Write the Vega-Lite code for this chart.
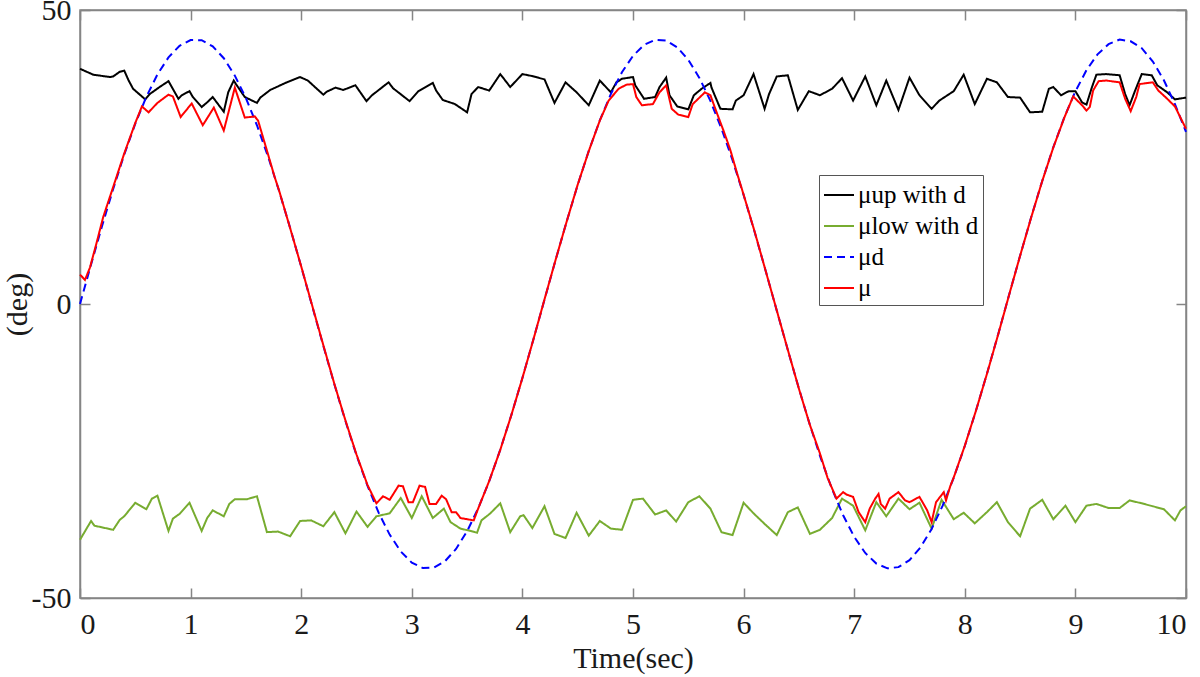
{
  "$schema": "https://vega.github.io/schema/vega-lite/v6.json",
  "width": 1106,
  "height": 588,
  "autosize": {"type": "none"},
  "padding": {"left": 80, "top": 10, "right": 14, "bottom": 79},
  "background": "white",
  "config": {
    "view": {"stroke": "#858585", "strokeWidth": 1.5},
    "axis": {
      "labelFont": "Liberation Serif",
      "titleFont": "Liberation Serif",
      "labelFontSize": 30,
      "titleFontSize": 30,
      "titleFontWeight": "normal",
      "labelColor": "#1a1a1a",
      "titleColor": "#1a1a1a",
      "domainColor": "#858585",
      "tickColor": "#858585",
      "domainWidth": 1.5,
      "tickWidth": 1.5,
      "tickSize": -10,
      "grid": false,
      "labelExpr": "replace(datum.label, '−', '-')"
    },
    "legend": {
      "labelFont": "Liberation Serif",
      "labelFontSize": 25,
      "labelColor": "#000000",
      "symbolType": "stroke",
      "symbolSize": 900,
      "symbolStrokeWidth": 2
    }
  },
  "datasets": {
    "lines": [
      {"s":"up","t":0,"v":40.0},{"s":"up","t":0.12,"v":39.0},{"s":"up","t":0.27,"v":38.6},{"s":"up","t":0.30,"v":38.7},{"s":"up","t":0.36,"v":39.5},{"s":"up","t":0.40,"v":39.7},{"s":"up","t":0.44,"v":38.0},{"s":"up","t":0.48,"v":36.6},{"s":"up","t":0.59,"v":34.8},{"s":"up","t":0.63,"v":35.7},{"s":"up","t":0.72,"v":36.9},{"s":"up","t":0.80,"v":37.9},{"s":"up","t":0.89,"v":34.9},{"s":"up","t":0.92,"v":35.5},{"s":"up","t":0.99,"v":36.2},{"s":"up","t":1.02,"v":35.2},{"s":"up","t":1.10,"v":33.5},{"s":"up","t":1.15,"v":34.3},{"s":"up","t":1.20,"v":35.2},{"s":"up","t":1.30,"v":32.7},{"s":"up","t":1.34,"v":36.0},{"s":"up","t":1.39,"v":38.0},{"s":"up","t":1.41,"v":37.4},{"s":"up","t":1.49,"v":35.2},{"s":"up","t":1.60,"v":34.2},{"s":"up","t":1.63,"v":35.1},{"s":"up","t":1.72,"v":36.4},{"s":"up","t":1.87,"v":37.7},{"s":"up","t":1.99,"v":38.6},{"s":"up","t":2.06,"v":38.0},{"s":"up","t":2.20,"v":35.6},{"s":"up","t":2.23,"v":36.1},{"s":"up","t":2.31,"v":36.8},{"s":"up","t":2.38,"v":36.4},{"s":"up","t":2.49,"v":37.2},{"s":"up","t":2.59,"v":34.5},{"s":"up","t":2.64,"v":35.5},{"s":"up","t":2.79,"v":37.7},{"s":"up","t":2.83,"v":36.7},{"s":"up","t":2.98,"v":34.5},{"s":"up","t":3.06,"v":36.2},{"s":"up","t":3.19,"v":37.6},{"s":"up","t":3.22,"v":36.3},{"s":"up","t":3.28,"v":34.7},{"s":"up","t":3.39,"v":34.0},{"s":"up","t":3.50,"v":32.6},{"s":"up","t":3.54,"v":35.7},{"s":"up","t":3.60,"v":36.9},{"s":"up","t":3.70,"v":36.3},{"s":"up","t":3.80,"v":39.1},{"s":"up","t":3.89,"v":36.9},{"s":"up","t":4.00,"v":39.1},{"s":"up","t":4.08,"v":38.8},{"s":"up","t":4.20,"v":38.2},{"s":"up","t":4.29,"v":34.2},{"s":"up","t":4.39,"v":37.7},{"s":"up","t":4.49,"v":36.0},{"s":"up","t":4.60,"v":33.8},{"s":"up","t":4.70,"v":38.0},{"s":"up","t":4.80,"v":36.0},{"s":"up","t":4.85,"v":37.7},{"s":"up","t":4.90,"v":38.3},{"s":"up","t":5.00,"v":38.6},{"s":"up","t":5.02,"v":37.2},{"s":"up","t":5.10,"v":34.9},{"s":"up","t":5.20,"v":35.2},{"s":"up","t":5.24,"v":36.9},{"s":"up","t":5.30,"v":38.5},{"s":"up","t":5.33,"v":35.5},{"s":"up","t":5.40,"v":33.6},{"s":"up","t":5.50,"v":33.1},{"s":"up","t":5.55,"v":35.5},{"s":"up","t":5.62,"v":36.6},{"s":"up","t":5.70,"v":37.6},{"s":"up","t":5.71,"v":36.8},{"s":"up","t":5.79,"v":33.2},{"s":"up","t":5.90,"v":33.1},{"s":"up","t":5.93,"v":34.6},{"s":"up","t":6.00,"v":35.5},{"s":"up","t":6.09,"v":39.1},{"s":"up","t":6.19,"v":33.2},{"s":"up","t":6.23,"v":35.7},{"s":"up","t":6.30,"v":38.7},{"s":"up","t":6.40,"v":38.9},{"s":"up","t":6.49,"v":33.0},{"s":"up","t":6.59,"v":36.2},{"s":"up","t":6.69,"v":35.5},{"s":"up","t":6.80,"v":36.6},{"s":"up","t":6.89,"v":38.4},{"s":"up","t":6.99,"v":34.6},{"s":"up","t":7.10,"v":38.7},{"s":"up","t":7.20,"v":33.8},{"s":"up","t":7.29,"v":38.0},{"s":"up","t":7.40,"v":33.0},{"s":"up","t":7.50,"v":38.5},{"s":"up","t":7.59,"v":35.5},{"s":"up","t":7.70,"v":33.2},{"s":"up","t":7.77,"v":34.6},{"s":"up","t":7.90,"v":36.2},{"s":"up","t":7.99,"v":39.0},{"s":"up","t":8.09,"v":34.0},{"s":"up","t":8.20,"v":38.3},{"s":"up","t":8.29,"v":37.7},{"s":"up","t":8.39,"v":35.2},{"s":"up","t":8.50,"v":35.1},{"s":"up","t":8.59,"v":32.6},{"s":"up","t":8.70,"v":32.7},{"s":"up","t":8.76,"v":36.6},{"s":"up","t":8.80,"v":36.9},{"s":"up","t":8.87,"v":35.5},{"s":"up","t":8.94,"v":36.2},{"s":"up","t":9.00,"v":36.2},{"s":"up","t":9.06,"v":34.3},{"s":"up","t":9.10,"v":33.9},{"s":"up","t":9.15,"v":36.9},{"s":"up","t":9.19,"v":39.0},{"s":"up","t":9.28,"v":39.1},{"s":"up","t":9.40,"v":38.9},{"s":"up","t":9.45,"v":35.7},{"s":"up","t":9.49,"v":33.8},{"s":"up","t":9.54,"v":36.3},{"s":"up","t":9.60,"v":39.1},{"s":"up","t":9.69,"v":38.9},{"s":"up","t":9.74,"v":37.2},{"s":"up","t":9.83,"v":36.0},{"s":"up","t":9.90,"v":34.8},{"s":"up","t":10.0,"v":35.1},

      {"s":"low","t":0,"v":-40.1},{"s":"low","t":0.10,"v":-36.9},{"s":"low","t":0.13,"v":-37.7},{"s":"low","t":0.30,"v":-38.4},{"s":"low","t":0.36,"v":-36.7},{"s":"low","t":0.40,"v":-36.1},{"s":"low","t":0.50,"v":-33.8},{"s":"low","t":0.60,"v":-34.9},{"s":"low","t":0.65,"v":-33.1},{"s":"low","t":0.70,"v":-32.6},{"s":"low","t":0.80,"v":-38.6},{"s":"low","t":0.84,"v":-36.5},{"s":"low","t":0.90,"v":-35.7},{"s":"low","t":0.99,"v":-33.8},{"s":"low","t":1.10,"v":-38.6},{"s":"low","t":1.15,"v":-36.4},{"s":"low","t":1.20,"v":-35.1},{"s":"low","t":1.30,"v":-36.1},{"s":"low","t":1.35,"v":-34.0},{"s":"low","t":1.40,"v":-33.2},{"s":"low","t":1.51,"v":-33.2},{"s":"low","t":1.60,"v":-32.7},{"s":"low","t":1.69,"v":-38.8},{"s":"low","t":1.79,"v":-38.7},{"s":"low","t":1.90,"v":-39.5},{"s":"low","t":1.99,"v":-36.9},{"s":"low","t":2.09,"v":-36.8},{"s":"low","t":2.20,"v":-37.8},{"s":"low","t":2.30,"v":-35.4},{"s":"low","t":2.40,"v":-39.0},{"s":"low","t":2.50,"v":-35.3},{"s":"low","t":2.60,"v":-37.9},{"s":"low","t":2.68,"v":-36.1},{"s":"low","t":2.80,"v":-35.6},{"s":"low","t":2.90,"v":-33.0},{"s":"low","t":3.00,"v":-36.4},{"s":"low","t":3.09,"v":-32.7},{"s":"low","t":3.19,"v":-36.4},{"s":"low","t":3.29,"v":-34.8},{"s":"low","t":3.35,"v":-37.1},{"s":"low","t":3.44,"v":-38.2},{"s":"low","t":3.51,"v":-38.5},{"s":"low","t":3.59,"v":-38.9},{"s":"low","t":3.63,"v":-36.8},{"s":"low","t":3.71,"v":-35.6},{"s":"low","t":3.80,"v":-33.9},{"s":"low","t":3.89,"v":-38.8},{"s":"low","t":3.98,"v":-36.1},{"s":"low","t":4.01,"v":-35.9},{"s":"low","t":4.09,"v":-38.1},{"s":"low","t":4.20,"v":-34.4},{"s":"low","t":4.29,"v":-39.1},{"s":"low","t":4.39,"v":-39.8},{"s":"low","t":4.49,"v":-35.5},{"s":"low","t":4.60,"v":-39.4},{"s":"low","t":4.70,"v":-36.9},{"s":"low","t":4.80,"v":-38.2},{"s":"low","t":4.90,"v":-38.4},{"s":"low","t":5.00,"v":-33.3},{"s":"low","t":5.09,"v":-33.1},{"s":"low","t":5.20,"v":-35.8},{"s":"low","t":5.30,"v":-35.1},{"s":"low","t":5.39,"v":-37.0},{"s":"low","t":5.50,"v":-33.7},{"s":"low","t":5.60,"v":-32.7},{"s":"low","t":5.70,"v":-34.8},{"s":"low","t":5.80,"v":-38.8},{"s":"low","t":5.90,"v":-39.3},{"s":"low","t":6.00,"v":-33.8},{"s":"low","t":6.09,"v":-35.6},{"s":"low","t":6.19,"v":-37.4},{"s":"low","t":6.30,"v":-39.3},{"s":"low","t":6.40,"v":-35.4},{"s":"low","t":6.49,"v":-34.6},{"s":"low","t":6.60,"v":-39.1},{"s":"low","t":6.69,"v":-38.4},{"s":"low","t":6.80,"v":-36.4},{"s":"low","t":6.89,"v":-33.1},{"s":"low","t":6.99,"v":-34.3},{"s":"low","t":7.10,"v":-38.5},{"s":"low","t":7.20,"v":-33.7},{"s":"low","t":7.29,"v":-36.1},{"s":"low","t":7.40,"v":-33.1},{"s":"low","t":7.50,"v":-34.9},{"s":"low","t":7.59,"v":-33.8},{"s":"low","t":7.70,"v":-38.2},{"s":"low","t":7.79,"v":-33.3},{"s":"low","t":7.90,"v":-36.6},{"s":"low","t":7.99,"v":-35.5},{"s":"low","t":8.09,"v":-37.3},{"s":"low","t":8.20,"v":-35.4},{"s":"low","t":8.29,"v":-33.7},{"s":"low","t":8.39,"v":-37.1},{"s":"low","t":8.50,"v":-39.5},{"s":"low","t":8.59,"v":-34.8},{"s":"low","t":8.70,"v":-33.3},{"s":"low","t":8.80,"v":-36.6},{"s":"low","t":8.91,"v":-34.3},{"s":"low","t":9.00,"v":-37.1},{"s":"low","t":9.10,"v":-34.3},{"s":"low","t":9.19,"v":-34.0},{"s":"low","t":9.30,"v":-34.7},{"s":"low","t":9.40,"v":-34.7},{"s":"low","t":9.49,"v":-33.4},{"s":"low","t":9.60,"v":-33.9},{"s":"low","t":9.70,"v":-34.4},{"s":"low","t":9.80,"v":-34.9},{"s":"low","t":9.90,"v":-36.8},{"s":"low","t":9.95,"v":-35.1},{"s":"low","t":10.0,"v":-34.4},

      {"s":"d","t":0.0,"v":0},{"s":"d","t":0.1,"v":6.72},{"s":"d","t":0.2,"v":13.30},{"s":"d","t":0.3,"v":19.57},{"s":"d","t":0.4,"v":25.41},{"s":"d","t":0.5,"v":30.67},{"s":"d","t":0.6,"v":35.25},{"s":"d","t":0.7,"v":39.03},{"s":"d","t":0.8,"v":41.94},{"s":"d","t":0.9,"v":43.91},{"s":"d","t":1.0,"v":44.89},{"s":"d","t":1.1,"v":44.86},{"s":"d","t":1.2,"v":43.82},{"s":"d","t":1.3,"v":41.80},{"s":"d","t":1.4,"v":38.84},{"s":"d","t":1.5,"v":35.01},{"s":"d","t":1.6,"v":30.40},{"s":"d","t":1.7,"v":25.10},{"s":"d","t":1.8,"v":19.23},{"s":"d","t":1.9,"v":12.94},{"s":"d","t":2.0,"v":6.35},{"s":"d","t":2.1,"v":-0.38},{"s":"d","t":2.2,"v":-7.10},{"s":"d","t":2.3,"v":-13.66},{"s":"d","t":2.4,"v":-19.91},{"s":"d","t":2.5,"v":-25.72},{"s":"d","t":2.6,"v":-30.95},{"s":"d","t":2.7,"v":-35.49},{"s":"d","t":2.8,"v":-39.22},{"s":"d","t":2.9,"v":-42.08},{"s":"d","t":3.0,"v":-43.99},{"s":"d","t":3.1,"v":-44.91},{"s":"d","t":3.2,"v":-44.83},{"s":"d","t":3.3,"v":-43.74},{"s":"d","t":3.4,"v":-41.66},{"s":"d","t":3.5,"v":-38.65},{"s":"d","t":3.6,"v":-34.77},{"s":"d","t":3.7,"v":-30.12},{"s":"d","t":3.8,"v":-24.78},{"s":"d","t":3.9,"v":-18.89},{"s":"d","t":4.0,"v":-12.57},{"s":"d","t":4.1,"v":-5.98},{"s":"d","t":4.2,"v":0.76},{"s":"d","t":4.3,"v":7.47},{"s":"d","t":4.4,"v":14.02},{"s":"d","t":4.5,"v":20.25},{"s":"d","t":4.6,"v":26.03},{"s":"d","t":4.7,"v":31.22},{"s":"d","t":4.8,"v":35.72},{"s":"d","t":4.9,"v":39.41},{"s":"d","t":5.0,"v":42.21},{"s":"d","t":5.1,"v":44.06},{"s":"d","t":5.2,"v":44.93},{"s":"d","t":5.3,"v":44.80},{"s":"d","t":5.4,"v":43.65},{"s":"d","t":5.5,"v":41.52},{"s":"d","t":5.6,"v":38.46},{"s":"d","t":5.7,"v":34.54},{"s":"d","t":5.8,"v":29.83},{"s":"d","t":5.9,"v":24.46},{"s":"d","t":6.0,"v":18.55},{"s":"d","t":6.1,"v":12.23},{"s":"d","t":6.2,"v":5.60},{"s":"d","t":6.3,"v":-1.13},{"s":"d","t":6.4,"v":-7.84},{"s":"d","t":6.5,"v":-14.38},{"s":"d","t":6.6,"v":-20.59},{"s":"d","t":6.7,"v":-26.34},{"s":"d","t":6.8,"v":-31.49},{"s":"d","t":6.9,"v":-35.94},{"s":"d","t":7.0,"v":-39.59},{"s":"d","t":7.1,"v":-42.34},{"s":"d","t":7.2,"v":-44.14},{"s":"d","t":7.3,"v":-44.95},{"s":"d","t":7.4,"v":-44.75},{"s":"d","t":7.5,"v":-43.57},{"s":"d","t":7.6,"v":-41.38},{"s":"d","t":7.7,"v":-38.26},{"s":"d","t":7.8,"v":-34.29},{"s":"d","t":7.9,"v":-29.54},{"s":"d","t":8.0,"v":-24.15},{"s":"d","t":8.1,"v":-18.20},{"s":"d","t":8.2,"v":-11.87},{"s":"d","t":8.3,"v":-5.27},{"s":"d","t":8.4,"v":1.51},{"s":"d","t":8.5,"v":8.22},{"s":"d","t":8.6,"v":14.74},{"s":"d","t":8.7,"v":20.93},{"s":"d","t":8.8,"v":26.64},{"s":"d","t":8.9,"v":31.76},{"s":"d","t":9.0,"v":36.17},{"s":"d","t":9.1,"v":39.76},{"s":"d","t":9.2,"v":42.46},{"s":"d","t":9.3,"v":44.19},{"s":"d","t":9.4,"v":44.97},{"s":"d","t":9.5,"v":44.68},{"s":"d","t":9.6,"v":43.51},{"s":"d","t":9.7,"v":41.24},{"s":"d","t":9.8,"v":38.06},{"s":"d","t":9.9,"v":34.00},{"s":"d","t":10.0,"v":29.26},

      {"s":"mu","t":0,"v":5.0},{"s":"mu","t":0.045,"v":4.1},{"s":"mu","t":0.09,"v":6.2},{"s":"mu","t":0.15,"v":10.4},{"s":"mu","t":0.21,"v":14.8},{"s":"mu","t":0.3,"v":19.9},{"s":"mu","t":0.4,"v":25.6},{"s":"mu","t":0.5,"v":30.8},{"s":"mu","t":0.56,"v":33.6},{"s":"mu","t":0.62,"v":32.6},{"s":"mu","t":0.70,"v":34.2},{"s":"mu","t":0.80,"v":35.6},{"s":"mu","t":0.84,"v":35.3},{"s":"mu","t":0.91,"v":31.8},{"s":"mu","t":1.01,"v":34.1},{"s":"mu","t":1.11,"v":30.4},{"s":"mu","t":1.21,"v":33.4},{"s":"mu","t":1.30,"v":29.5},{"s":"mu","t":1.40,"v":36.8},{"s":"mu","t":1.49,"v":31.7},{"s":"mu","t":1.58,"v":31.9},{"s":"mu","t":1.61,"v":31.2},{"s":"mu","t":1.69,"v":26.1},{"s":"mu","t":1.76,"v":21.6},{"s":"mu","t":1.8,"v":19.3},{"s":"mu","t":1.9,"v":12.9},{"s":"mu","t":2.0,"v":6.4},{"s":"mu","t":2.1,"v":-0.3},{"s":"mu","t":2.2,"v":-7.0},{"s":"mu","t":2.3,"v":-13.6},{"s":"mu","t":2.4,"v":-19.8},{"s":"mu","t":2.5,"v":-25.6},{"s":"mu","t":2.6,"v":-30.8},{"s":"mu","t":2.68,"v":-33.9},{"s":"mu","t":2.74,"v":-32.7},{"s":"mu","t":2.80,"v":-33.3},{"s":"mu","t":2.88,"v":-30.9},{"s":"mu","t":2.92,"v":-31.0},{"s":"mu","t":2.97,"v":-33.7},{"s":"mu","t":3.01,"v":-33.7},{"s":"mu","t":3.07,"v":-30.9},{"s":"mu","t":3.12,"v":-31.1},{"s":"mu","t":3.16,"v":-34.0},{"s":"mu","t":3.22,"v":-34.0},{"s":"mu","t":3.27,"v":-32.6},{"s":"mu","t":3.31,"v":-33.2},{"s":"mu","t":3.36,"v":-35.4},{"s":"mu","t":3.40,"v":-35.4},{"s":"mu","t":3.44,"v":-36.4},{"s":"mu","t":3.50,"v":-36.6},{"s":"mu","t":3.56,"v":-36.8},{"s":"mu","t":3.6,"v":-34.8},{"s":"mu","t":3.7,"v":-30.1},{"s":"mu","t":3.8,"v":-24.8},{"s":"mu","t":3.9,"v":-18.9},{"s":"mu","t":4.0,"v":-12.6},{"s":"mu","t":4.1,"v":-6.0},{"s":"mu","t":4.2,"v":0.8},{"s":"mu","t":4.3,"v":7.5},{"s":"mu","t":4.4,"v":14.0},{"s":"mu","t":4.5,"v":20.3},{"s":"mu","t":4.6,"v":26.0},{"s":"mu","t":4.7,"v":31.2},{"s":"mu","t":4.78,"v":34.6},{"s":"mu","t":4.87,"v":36.6},{"s":"mu","t":4.94,"v":37.3},{"s":"mu","t":5.00,"v":37.4},{"s":"mu","t":5.03,"v":35.2},{"s":"mu","t":5.08,"v":33.8},{"s":"mu","t":5.18,"v":34.0},{"s":"mu","t":5.24,"v":36.0},{"s":"mu","t":5.30,"v":37.2},{"s":"mu","t":5.35,"v":33.2},{"s":"mu","t":5.41,"v":32.2},{"s":"mu","t":5.50,"v":31.8},{"s":"mu","t":5.54,"v":34.0},{"s":"mu","t":5.59,"v":34.9},{"s":"mu","t":5.65,"v":36.0},{"s":"mu","t":5.70,"v":35.5},{"s":"mu","t":5.76,"v":32.4},{"s":"mu","t":5.82,"v":29.4},{"s":"mu","t":5.88,"v":26.2},{"s":"mu","t":5.94,"v":22.3},{"s":"mu","t":6.0,"v":18.6},{"s":"mu","t":6.1,"v":12.3},{"s":"mu","t":6.2,"v":5.6},{"s":"mu","t":6.3,"v":-1.1},{"s":"mu","t":6.4,"v":-7.8},{"s":"mu","t":6.5,"v":-14.4},{"s":"mu","t":6.6,"v":-20.6},{"s":"mu","t":6.69,"v":-25.4},{"s":"mu","t":6.76,"v":-29.6},{"s":"mu","t":6.84,"v":-33.1},{"s":"mu","t":6.90,"v":-32.0},{"s":"mu","t":6.93,"v":-32.4},{"s":"mu","t":6.99,"v":-32.8},{"s":"mu","t":7.04,"v":-35.4},{"s":"mu","t":7.10,"v":-37.1},{"s":"mu","t":7.14,"v":-34.8},{"s":"mu","t":7.19,"v":-33.1},{"s":"mu","t":7.22,"v":-32.3},{"s":"mu","t":7.24,"v":-34.0},{"s":"mu","t":7.28,"v":-34.8},{"s":"mu","t":7.32,"v":-33.1},{"s":"mu","t":7.40,"v":-32.0},{"s":"mu","t":7.46,"v":-33.4},{"s":"mu","t":7.50,"v":-33.7},{"s":"mu","t":7.59,"v":-32.8},{"s":"mu","t":7.66,"v":-35.1},{"s":"mu","t":7.70,"v":-37.1},{"s":"mu","t":7.74,"v":-33.7},{"s":"mu","t":7.81,"v":-32.0},{"s":"mu","t":7.83,"v":-33.4},{"s":"mu","t":7.87,"v":-30.9},{"s":"mu","t":7.9,"v":-29.5},{"s":"mu","t":8.0,"v":-24.1},{"s":"mu","t":8.1,"v":-18.2},{"s":"mu","t":8.2,"v":-11.9},{"s":"mu","t":8.3,"v":-5.3},{"s":"mu","t":8.4,"v":1.5},{"s":"mu","t":8.5,"v":8.2},{"s":"mu","t":8.6,"v":14.7},{"s":"mu","t":8.7,"v":20.9},{"s":"mu","t":8.8,"v":26.6},{"s":"mu","t":8.9,"v":31.7},{"s":"mu","t":8.98,"v":35.3},{"s":"mu","t":9.06,"v":33.8},{"s":"mu","t":9.10,"v":32.9},{"s":"mu","t":9.13,"v":33.5},{"s":"mu","t":9.16,"v":36.3},{"s":"mu","t":9.21,"v":37.9},{"s":"mu","t":9.28,"v":38.0},{"s":"mu","t":9.40,"v":37.7},{"s":"mu","t":9.45,"v":34.9},{"s":"mu","t":9.50,"v":32.8},{"s":"mu","t":9.55,"v":35.2},{"s":"mu","t":9.58,"v":37.4},{"s":"mu","t":9.70,"v":37.7},{"s":"mu","t":9.75,"v":36.3},{"s":"mu","t":9.83,"v":34.9},{"s":"mu","t":9.90,"v":33.6},{"s":"mu","t":10.0,"v":29.8}
    ]
  },
  "data": {"name": "lines"},
  "layer": [
    {
      "transform": [{"filter": "datum.s != 'mu'"}],
      "mark": {"type": "line", "strokeWidth": 2},
      "encoding": {
        "x": {
          "field": "t",
          "type": "quantitative",
          "scale": {"domain": [0, 10], "nice": false},
          "axis": {"orient": "bottom", "values": [0, 1, 2, 3, 4, 5, 6, 7, 8, 9, 10], "title": "Time(sec)", "labelPadding": 21, "titlePadding": 4}
        },
        "y": {
          "field": "v",
          "type": "quantitative",
          "scale": {"domain": [-50, 50], "nice": false},
          "axis": {"orient": "left", "values": [-50, 0, 50], "title": "(deg)", "labelPadding": 19, "titlePadding": -1}
        },
        "color": {
          "field": "s",
          "type": "nominal",
          "scale": {"domain": ["up", "low", "d", "mu"], "range": ["#000000", "#77AC30", "#0000FF", "#FF0000"]},
          "legend": {
            "orient": "none", "legendX": 739, "legendY": 165, "title": null,
            "fillColor": "white", "strokeColor": "#555555", "padding": 4, "rowPadding": 2, "labelOffset": 3,
            "labelExpr": "datum.label == 'up' ? 'μup with d' : datum.label == 'low' ? 'μlow with d' : datum.label == 'd' ? 'μd' : 'μ'"
          }
        },
        "strokeDash": {
          "field": "s",
          "type": "nominal",
          "scale": {"domain": ["up", "low", "d", "mu"], "range": [[1, 0], [1, 0], [8, 5], [1, 0]]},
          "legend": {
            "orient": "none", "legendX": 739, "legendY": 165, "title": null,
            "fillColor": "white", "strokeColor": "#555555", "padding": 4, "rowPadding": 2, "labelOffset": 3,
            "labelExpr": "datum.label == 'up' ? 'μup with d' : datum.label == 'low' ? 'μlow with d' : datum.label == 'd' ? 'μd' : 'μ'"
          }
        }
      }
    },
    {
      "transform": [{"filter": "datum.s == 'mu'"}],
      "mark": {"type": "line", "strokeWidth": 2},
      "encoding": {
        "x": {
          "field": "t",
          "type": "quantitative",
          "scale": {"domain": [0, 10], "nice": false},
          "axis": {"orient": "top", "values": [0, 1, 2, 3, 4, 5, 6, 7, 8, 9, 10], "labels": false, "title": null}
        },
        "y": {
          "field": "v",
          "type": "quantitative",
          "scale": {"domain": [-50, 50], "nice": false},
          "axis": {"orient": "right", "values": [-50, 0, 50], "labels": false, "title": null}
        },
        "color": {"field": "s", "type": "nominal"},
        "strokeDash": {"field": "s", "type": "nominal"}
      }
    }
  ],
  "resolve": {"axis": {"x": "independent", "y": "independent"}}
}
